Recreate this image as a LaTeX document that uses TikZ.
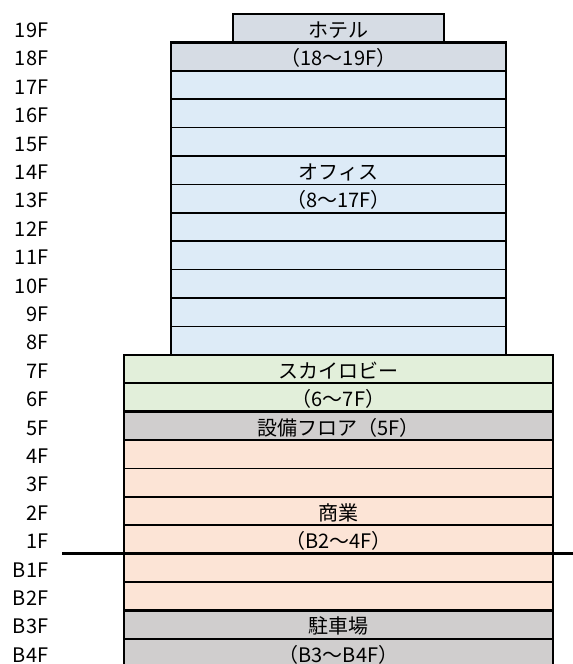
\documentclass[tikz,border=0pt]{standalone}
\usepackage{fontspec}
\setmainfont{Noto Sans CJK JP}
\usetikzlibrary{positioning}
\definecolor{hotelgray}{HTML}{D6DCE4}
\definecolor{officeblue}{HTML}{DDEBF7}
\definecolor{lobbygreen}{HTML}{E2EFDA}
\definecolor{plantgray}{HTML}{D0CECE}
\definecolor{shoppeach}{HTML}{FCE4D6}
\newcommand{\rowh}{28.4}
\newcommand{\rowtop}{14}

\begin{document}
\begin{tikzpicture}[
x=0.75pt,y=-0.75pt,
FloorCell/.style={draw=black,line width=1.1pt},
GroupFrame/.style={draw=black,line width=1.7pt},
FloorLabel/.style={anchor=base east,inner sep=0pt,font=\fontsize{15}{15}\selectfont},
CellText/.style={anchor=base,inner sep=0pt,font=\fontsize{15}{15}\selectfont},
GroundLine/.style={draw=black,line width=2.3pt}
]
\useasboundingbox (0,0) rectangle (573,664);
\clip (0,0) rectangle (573,664);

% x positions of the three blocks
\pgfmathparse{233}	\let\Xha\pgfmathresult
\pgfmathparse{444}	\let\Xhb\pgfmathresult
\pgfmathparse{171}	\let\Xoa\pgfmathresult
\pgfmathparse{505.7}	\let\Xob\pgfmathresult
\pgfmathparse{124}	\let\Xla\pgfmathresult
\pgfmathparse{553}	\let\Xlb\pgfmathresult
\pgfmathparse{338.5}	\let\Xm\pgfmathresult

% floor labels
\foreach \lbl [count=\i from 1] in {19F,18F,17F,16F,15F,14F,13F,12F,11F,10F,9F,8F,7F,6F,5F,4F,3F,2F,1F,B1F,B2F,B3F,B4F}
  \node[FloorLabel] (lbl\i) at (48.5,{\rowtop+\rowh*\i-5}) {\lbl};

% hotel
\draw[FloorCell,fill=hotelgray] (\Xha,\rowtop) rectangle (\Xhb,{\rowtop+\rowh});
\draw[FloorCell,fill=hotelgray] (\Xoa,{\rowtop+\rowh}) rectangle (\Xob,{\rowtop+\rowh*2});

% office
\foreach \i in {2,...,11}
  \draw[FloorCell,fill=officeblue] (\Xoa,{\rowtop+\rowh*\i}) rectangle (\Xob,{\rowtop+\rowh*(\i+1)});

% sky lobby, plant floor, shops, parking
\foreach \i/\c in {12/lobbygreen,13/lobbygreen,14/plantgray,15/shoppeach,16/shoppeach,17/shoppeach,18/shoppeach,19/shoppeach,20/shoppeach,21/plantgray,22/plantgray}
  \draw[FloorCell,fill=\c] (\Xla,{\rowtop+\rowh*\i}) rectangle (\Xlb,{\rowtop+\rowh*(\i+1)});

% group frames
\draw[GroupFrame] (\Xha,\rowtop) rectangle (\Xhb,{\rowtop+\rowh});
\draw[GroupFrame] (\Xoa,{\rowtop+\rowh}) rectangle (\Xob,{\rowtop+\rowh*12});
\foreach \a/\b in {12/14,14/15,15/21,21/23}
  \draw[GroupFrame] (\Xla,{\rowtop+\rowh*\a}) rectangle (\Xlb,{\rowtop+\rowh*\b});

% ground level
\coordinate (GL) at (62,{\rowtop+\rowh*19});
\coordinate (GR) at (573,{\rowtop+\rowh*19});
\draw[GroundLine] (GL) -- (GR);

% texts
\node[CellText] (hotel)   at (\Xm,{\rowtop+\rowh*1-5})  {ホテル};
\node[CellText] (hotelF)  at (\Xm,{\rowtop+\rowh*2-5})  {（18～19F）};
\node[CellText] (office)  at (\Xm,{\rowtop+\rowh*6-5})  {オフィス};
\node[CellText] (officeF) at (\Xm,{\rowtop+\rowh*7-5})  {（8～17F）};
\node[CellText] (lobby)   at (\Xm,{\rowtop+\rowh*13-5}) {スカイロビー};
\node[CellText] (lobbyF)  at (\Xm,{\rowtop+\rowh*14-5}) {（6～7F）};
\node[CellText] (plant)   at (\Xm,{\rowtop+\rowh*15-5}) {設備フロア（5F）};
\node[CellText] (shop)    at (\Xm,{\rowtop+\rowh*18-5}) {商業};
\node[CellText] (shopF)   at (\Xm,{\rowtop+\rowh*19-5}) {（B2～4F）};
\node[CellText] (park)    at (\Xm,{\rowtop+\rowh*22-5}) {駐車場};
\node[CellText] (parkF)   at (\Xm,{\rowtop+\rowh*23-5}) {（B3～B4F）};

\end{tikzpicture}
\end{document}
